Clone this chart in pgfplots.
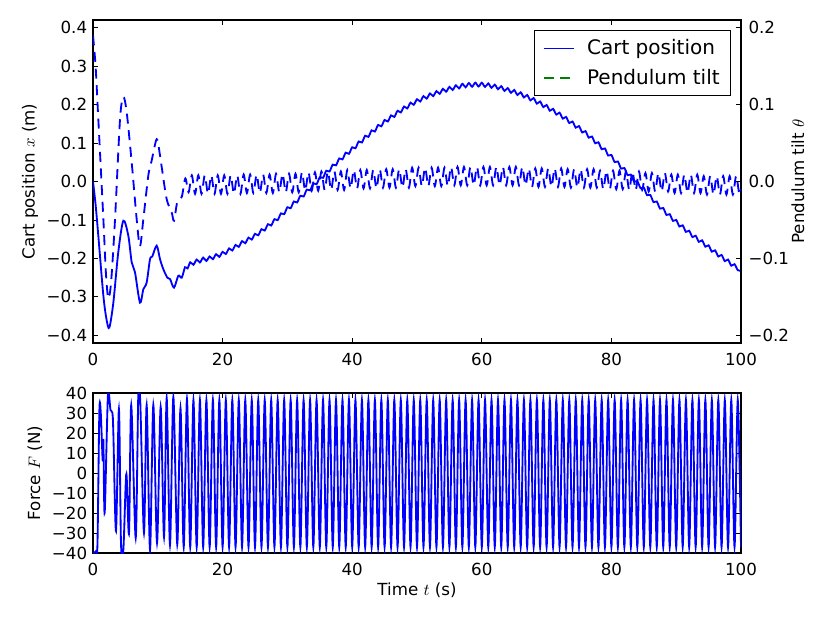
\documentclass[border=0pt]{standalone}
\usepackage{fontspec}
\setmainfont{DejaVu Sans}
\usepackage{pgfplots}
\pgfplotsset{compat=1.18}
\definecolor{mplgreen}{rgb}{0,0.5,0}
\pgfplotsset{
  common/.style={
    scale only axis, width=388.8pt,
    xmin=0, xmax=100,
    axis line style={line width=0.9pt},
    every tick/.style={black, line width=0.5pt},
    major tick length=3.2pt,
    tick align=inside,
    xtick={0,20,40,60,80,100},
    xticklabels={0,20,40,60,80,100},
    tick label style={font=\fontsize{10}{12}\selectfont},
    xticklabel style={yshift=-2.4pt},
    label style={font=\fontsize{10}{12}\selectfont},
    /pgf/number format/assume math mode=true,
  },
}
\begin{document}
\begin{tikzpicture}
\useasboundingbox (0,0) rectangle (498pt,-373.8pt);
% ---------------- top: cart position ----------------
\begin{axis}[common, at={(55.8pt,-205.8pt)}, anchor=south west, height=193.8pt,
  ymin=-0.42, ymax=0.42,
  ytick={-0.4,-0.3,-0.2,-0.1,0,0.1,0.2,0.3,0.4},
  yticklabels={−0.4,−0.3,−0.2,−0.1,0.0,0.1,0.2,0.3,0.4},
  ytick pos=left, xtick pos=both, xticklabel pos=lower,
  ylabel={Cart position $x$ (m)},
  ylabel style={at={(axis description cs:-0.0972,0.5)}, anchor=center}]
\addplot[blue, line width=1.1pt, smooth] coordinates {
(0,0) (0.4,-0.06) (0.82,-0.141) (1.6,-0.297) (2.1,-0.36) (2.52,-0.38) (3.14,-0.315) (3.9,-0.184) (4.68,-0.102) (5.45,-0.141) (5.97,-0.21) (6.48,-0.236) (7.25,-0.315) (7.77,-0.28) (8.28,-0.263) (8.8,-0.202) (9.15,-0.195) (9.83,-0.167) (10.34,-0.202) (10.85,-0.228) (11.47,-0.25) (11.9,-0.254) (12.5,-0.276) (13.17,-0.245) (13.7,-0.25) (14.2,-0.223) (14.6,-0.226)
(15,-0.210) (15.5,-0.2165) (16,-0.203) (16.5,-0.2105) (17,-0.198) (17.5,-0.2065) (18,-0.195) (18.5,-0.202) (19,-0.189) (19.5,-0.196)
(20,-0.183) (20.5,-0.1885) (21,-0.174) (21.5,-0.1795) (22,-0.165) (22.5,-0.170) (23,-0.155) (23.5,-0.1605) (24,-0.146) (24.5,-0.151)
(25,-0.136) (25.5,-0.140) (26,-0.124) (26.5,-0.1275) (27,-0.111) (27.5,-0.1145) (28,-0.098) (28.5,-0.1005) (29,-0.083) (29.5,-0.085)
(30,-0.067) (30.5,-0.0695) (31,-0.052) (31.5,-0.0545) (32,-0.037) (32.5,-0.039) (33,-0.021) (33.5,-0.023) (34,-0.005) (34.5,-0.007)
(35,0.011) (35.5,0.0095) (36,0.028) (36.5,0.026) (37,0.044) (37.5,0.042) (38,0.060) (38.5,0.0575) (39,0.075) (39.5,0.072)
(40,0.089) (40.5,0.0865) (41,0.104) (41.5,0.1015) (42,0.119) (42.5,0.116) (43,0.133) (43.5,0.130) (44,0.147) (44.5,0.1435)
(45,0.160) (45.5,0.156) (46,0.172) (46.5,0.168) (47,0.184) (47.5,0.1795) (48,0.195) (48.5,0.190) (49,0.205) (49.5,0.1995)
(50,0.214) (50.5,0.208) (51,0.222) (51.5,0.2155) (52,0.229) (52.5,0.222) (53,0.235) (53.5,0.228) (54,0.241) (54.5,0.2335)
(55,0.246) (55.5,0.238) (56,0.250) (56.5,0.242) (57,0.254) (57.5,0.245) (58,0.256) (58.5,0.2465) (59,0.257) (59.5,0.247)
(60,0.257) (60.5,0.246) (61,0.255) (61.5,0.2435) (62,0.252) (62.5,0.240) (63,0.248) (63.5,0.2355) (64,0.243) (64.5,0.2305)
(65,0.238) (65.5,0.225) (66,0.232) (66.5,0.2185) (67,0.225) (67.5,0.211) (68,0.217) (68.5,0.2025) (69,0.208) (69.5,0.1935)
(70,0.199) (70.5,0.184) (71,0.189) (71.5,0.174) (72,0.179) (72.5,0.1635) (73,0.168) (73.5,0.152) (74,0.156) (74.5,0.140)
(75,0.144) (75.5,0.1275) (76,0.131) (76.5,0.114) (77,0.117) (77.5,0.0995) (78,0.102) (78.5,0.084) (79,0.086) (79.5,0.0675)
(80,0.069) (80.5,0.0505) (81,0.052) (81.5,0.0335) (82,0.035) (82.5,0.0165) (83,0.018) (83.5,-0.0005) (84,0.001) (84.5,-0.0175)
(85,-0.016) (85.5,-0.0355) (86,-0.035) (86.5,-0.0535) (87,-0.052) (87.5,-0.0705) (88,-0.069) (88.5,-0.087) (89,-0.085) (89.5,-0.1025)
(90,-0.100) (90.5,-0.117) (91,-0.114) (91.5,-0.131) (92,-0.128) (92.5,-0.1445) (93,-0.141) (93.5,-0.157) (94,-0.153) (94.5,-0.1695)
(95,-0.166) (95.5,-0.1825) (96,-0.179) (96.5,-0.195) (97,-0.191) (97.5,-0.207) (98,-0.203) (98.5,-0.219) (99,-0.215) (99.5,-0.2305)
(100,-0.232)
};
\end{axis}
% ---------------- top: pendulum tilt (right axis) ----------------
\begin{axis}[common, at={(55.8pt,-205.8pt)}, anchor=south west, height=193.8pt,
  ymin=-0.21, ymax=0.21,
  axis x line=none, axis y line*=right, ytick align=inside,
  ytick={-0.2,-0.1,0,0.1,0.2},
  yticklabels={−0.2,−0.1,0.0,0.1,0.2},
  yticklabel style={xshift=1pt},
  ylabel={Pendulum tilt $\theta$},
  ylabel style={at={(axis description cs:1.088,0.5)}, anchor=center},
  legend style={at={(axis description cs:0.9846,0.969)}, anchor=north east,
    draw=black, line width=0.6pt, fill=white,
    font=\fontsize{12}{14.4}\selectfont,
    inner xsep=5pt, inner ysep=4pt, row sep=4pt,
    nodes={inner sep=1.5pt}},
  legend cell align=left,
  legend image code/.code={\draw[#1, line width=1.1pt] (0pt,0pt) -- (18pt,0pt);},
  ]
\addlegendimage{blue}
\addlegendentry{\hspace{6pt}Cart position}
\addlegendimage{mplgreen, dash pattern=on 6pt off 4pt}
\addlegendentry{\hspace{6pt}Pendulum tilt}
\addplot[blue, line width=1.1pt, dash pattern=on 6pt off 4pt, smooth, forget plot] coordinates {
(0,0.19) (0.4,0.15) (0.82,0.081) (1.6,-0.049) (2.0,-0.12) (2.37,-0.152) (2.8,-0.13) (3.4,-0.049) (4.17,0.081) (4.68,0.110) (5.2,0.090) (5.97,0.025) (6.74,-0.049) (7.25,-0.084) (7.77,-0.049) (8.54,0.008) (9.05,0.027) (9.83,0.055) (10.34,0.034) (10.6,0.019) (11.37,-0.023) (12.14,-0.040) (12.5,-0.051) (13.0,-0.027) (13.7,-0.020) (14.25,0.004) (14.75,-0.014)
(15.25,0.008) (15.75,-0.016) (16.25,0.008) (16.75,-0.016) (17.25,0.008) (17.75,-0.016) (18.25,0.008) (18.75,-0.016) (19.25,0.008) (19.75,-0.016)
(20.25,0.008) (20.75,-0.016) (21.25,0.008) (21.75,-0.016) (22.25,0.008) (22.75,-0.016) (23.25,0.009) (23.75,-0.015) (24.25,0.009) (24.75,-0.015)
(25.25,0.009) (25.75,-0.015) (26.25,0.009) (26.75,-0.015) (27.25,0.009) (27.75,-0.015) (28.25,0.010) (28.75,-0.014) (29.25,0.010) (29.75,-0.014)
(30.25,0.010) (30.75,-0.014) (31.25,0.010) (31.75,-0.014) (32.25,0.012) (32.75,-0.012) (33.25,0.012) (33.75,-0.012) (34.25,0.012) (34.75,-0.012)
(35.25,0.013) (35.75,-0.011) (36.25,0.013) (36.75,-0.011) (37.25,0.013) (37.75,-0.011) (38.25,0.013) (38.75,-0.011) (39.25,0.015) (39.75,-0.009)
(40.25,0.015) (40.75,-0.009) (41.25,0.015) (41.75,-0.009) (42.25,0.015) (42.75,-0.009) (43.25,0.015) (43.75,-0.009) (44.25,0.016) (44.75,-0.008)
(45.25,0.016) (45.75,-0.008) (46.25,0.016) (46.75,-0.008) (47.25,0.016) (47.75,-0.008) (48.25,0.016) (48.75,-0.008) (49.25,0.018) (49.75,-0.006)
(50.25,0.018) (50.75,-0.006) (51.25,0.018) (51.75,-0.006) (52.25,0.018) (52.75,-0.006) (53.25,0.018) (53.75,-0.006) (54.25,0.018) (54.75,-0.006)
(55.25,0.019) (55.75,-0.005) (56.25,0.019) (56.75,-0.005) (57.25,0.019) (57.75,-0.005) (58.25,0.019) (58.75,-0.005) (59.25,0.019) (59.75,-0.005)
(60.25,0.019) (60.75,-0.005) (61.25,0.019) (61.75,-0.005) (62.25,0.019) (62.75,-0.005) (63.25,0.019) (63.75,-0.005) (64.25,0.019) (64.75,-0.005)
(65.25,0.019) (65.75,-0.005) (66.25,0.019) (66.75,-0.005) (67.25,0.017) (67.75,-0.007) (68.25,0.017) (68.75,-0.007) (69.25,0.017) (69.75,-0.007)
(70.25,0.017) (70.75,-0.007) (71.25,0.017) (71.75,-0.007) (72.25,0.017) (72.75,-0.007) (73.25,0.016) (73.75,-0.008) (74.25,0.016) (74.75,-0.008)
(75.25,0.016) (75.75,-0.008) (76.25,0.016) (76.75,-0.008) (77.25,0.016) (77.75,-0.008) (78.25,0.014) (78.75,-0.010) (79.25,0.014) (79.75,-0.010)
(80.25,0.014) (80.75,-0.010) (81.25,0.014) (81.75,-0.010) (82.25,0.013) (82.75,-0.011) (83.25,0.013) (83.75,-0.011) (84.25,0.013) (84.75,-0.011)
(85.25,0.011) (85.75,-0.013) (86.25,0.011) (86.75,-0.013) (87.25,0.011) (87.75,-0.013) (88.25,0.011) (88.75,-0.013) (89.25,0.009) (89.75,-0.015)
(90.25,0.009) (90.75,-0.015) (91.25,0.009) (91.75,-0.015) (92.25,0.009) (92.75,-0.015) (93.25,0.009) (93.75,-0.015) (94.25,0.007) (94.75,-0.017)
(95.25,0.007) (95.75,-0.017) (96.25,0.007) (96.75,-0.017) (97.25,0.007) (97.75,-0.017) (98.25,0.007) (98.75,-0.017) (99.25,0.007) (99.75,-0.017)
(100,-0.010)
};
\end{axis}
% ---------------- bottom: force ----------------
\begin{axis}[common, at={(55.8pt,-331.8pt)}, anchor=south west, height=96pt,
  ymin=-40, ymax=40,
  ytick={-40,-30,-20,-10,0,10,20,30,40},
  yticklabels={−40,−30,−20,−10,0,10,20,30,40},
  xtick pos=both, ytick pos=both, xticklabel pos=lower, yticklabel pos=left,
  xlabel={Time $t$ (s)},
  xlabel style={at={(axis description cs:0.5,-0.231)}, anchor=center},
  ylabel={Force $F$ (N)},
  ylabel style={at={(axis description cs:-0.0895,0.5)}, anchor=center}]
\addplot[blue, line width=1.1pt, smooth] coordinates {
(0,-40) (0.5,-39) (0.7,-34) (0.98,30.7) (1.2,30) (1.49,6.5) (1.6,16.5) (1.8,-20) (2.3,38.5) (2.7,31.5) (3.0,30) (3.14,20) (3.55,-29) (4.0,32) (4.32,-35) (4.68,-38.5) (5.04,-6) (5.2,-2) (5.56,-30) (5.9,34) (6.59,-32.5) (6.99,39) (7.3,35) (7.87,-30) (8.28,34) (8.8,-38.5) (9.31,34) (9.88,-35) (10.44,33) (10.96,-32) (11.37,37.5) (11.88,-36) (12.4,38) (13.0,-35.7) (13.5,32.5) (14.0,-37) (14.5,37)
(15,-37) (15.5,36.5) (16,-37) (16.5,36.5) (17,-37) (17.5,36.5) (18,-37) (18.5,36.5) (19,-37) (19.5,36.5)
(20,-37) (20.5,36.5) (21,-37) (21.5,36.5) (22,-37) (22.5,36.5) (23,-37) (23.5,36.5) (24,-37) (24.5,36.5)
(25,-37) (25.5,36.5) (26,-37) (26.5,36.5) (27,-37) (27.5,36.5) (28,-37) (28.5,36.5) (29,-37) (29.5,36.5)
(30,-37) (30.5,36.5) (31,-37) (31.5,36.5) (32,-37) (32.5,36.5) (33,-37) (33.5,36.5) (34,-37) (34.5,36.5)
(35,-37) (35.5,36.5) (36,-37) (36.5,36.5) (37,-37) (37.5,36.5) (38,-37) (38.5,36.5) (39,-37) (39.5,36.5)
(40,-37) (40.5,36.5) (41,-37) (41.5,36.5) (42,-37) (42.5,36.5) (43,-37) (43.5,36.5) (44,-37) (44.5,36.5)
(45,-37) (45.5,36.5) (46,-37) (46.5,36.5) (47,-37) (47.5,36.5) (48,-37) (48.5,36.5) (49,-37) (49.5,36.5)
(50,-37) (50.5,36.5) (51,-37) (51.5,36.5) (52,-37) (52.5,36.5) (53,-37) (53.5,36.5) (54,-37) (54.5,36.5)
(55,-37) (55.5,36.5) (56,-37) (56.5,36.5) (57,-37) (57.5,36.5) (58,-37) (58.5,36.5) (59,-37) (59.5,36.5)
(60,-37) (60.5,36.5) (61,-37) (61.5,36.5) (62,-37) (62.5,36.5) (63,-37) (63.5,36.5) (64,-37) (64.5,36.5)
(65,-37) (65.5,36.5) (66,-37) (66.5,36.5) (67,-37) (67.5,36.5) (68,-37) (68.5,36.5) (69,-37) (69.5,36.5)
(70,-37) (70.5,36.5) (71,-37) (71.5,36.5) (72,-37) (72.5,36.5) (73,-37) (73.5,36.5) (74,-37) (74.5,36.5)
(75,-37) (75.5,36.5) (76,-37) (76.5,36.5) (77,-37) (77.5,36.5) (78,-37) (78.5,36.5) (79,-37) (79.5,36.5)
(80,-37) (80.5,36.5) (81,-37) (81.5,36.5) (82,-37) (82.5,36.5) (83,-37) (83.5,36.5) (84,-37) (84.5,36.5)
(85,-37) (85.5,36.5) (86,-37) (86.5,36.5) (87,-37) (87.5,36.5) (88,-37) (88.5,36.5) (89,-37) (89.5,36.5)
(90,-37) (90.5,36.5) (91,-37) (91.5,36.5) (92,-37) (92.5,36.5) (93,-37) (93.5,36.5) (94,-37) (94.5,36.5)
(95,-37) (95.5,36.5) (96,-37) (96.5,36.5) (97,-37) (97.5,36.5) (98,-37) (98.5,36.5) (99,-37) (99.5,36.5)
(100,-37)
};
\end{axis}
\end{tikzpicture}
\end{document}
